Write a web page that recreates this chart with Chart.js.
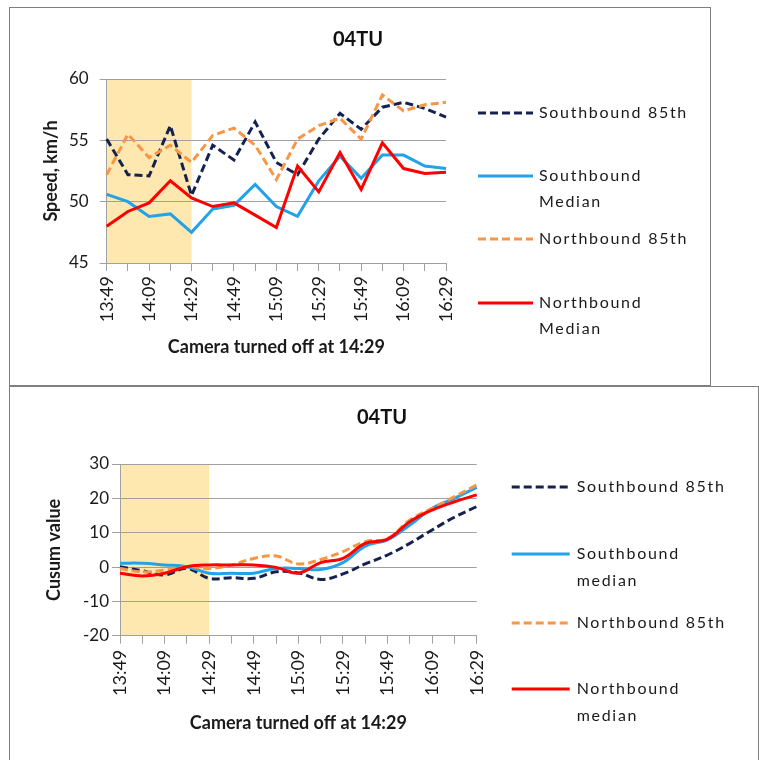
<!DOCTYPE html>
<html>
<head>
<meta charset="utf-8">
<script src="https://cdn.jsdelivr.net/npm/chart.js@4.4.0/dist/chart.umd.min.js"></script>
<style>
  html, body { margin: 0; padding: 0; background: #fff; }
  body { width: 759px; height: 760px; position: relative; overflow: hidden; font-family: Lato, sans-serif; }
  .panel { position: absolute; border: 1px solid #7f7f7f; background: #fff; box-sizing: border-box; }
  #speed-panel { left: 9px; top: 7px; width: 702px; height: 379px; }
  #cusum-panel { left: 9px; top: 386px; width: 750px; height: 390px; }
  .panel canvas { position: absolute; left: 0; top: 0; }
</style>
</head>
<body>
<div class="panel" id="speed-panel"><canvas id="speed-chart" width="700" height="377"></canvas></div>
<div class="panel" id="cusum-panel"><canvas id="cusum-chart" width="748" height="373"></canvas></div>
<script>
// 10-minute intervals, every second one labelled
const times = ['13:49','13:59','14:09','14:19','14:29','14:39','14:49','14:59','15:09',
               '15:19','15:29','15:39','15:49','15:59','16:09','16:19','16:29'];
const cameraOff = '14:29';

// speed, km/h
const sb85Speed   = [55.1, 52.2, 52.1, 56.2, 50.5, 54.6, 53.4, 56.5, 53.2, 52.2, 55.1, 57.2, 55.9, 57.7, 58.1, 57.6, 56.9];
const sbMedSpeed  = [50.6, 50.0, 48.8, 49.0, 47.5, 49.4, 49.7, 51.4, 49.6, 48.8, 51.7, 53.7, 51.9, 53.8, 53.8, 52.9, 52.7];
const nb85Speed   = [52.2, 55.5, 53.6, 54.6, 53.2, 55.4, 56.0, 54.6, 51.8, 55.1, 56.2, 56.8, 55.1, 58.7, 57.4, 57.9, 58.1];
const nbMedSpeed  = [48.0, 49.2, 49.9, 51.7, 50.3, 49.6, 49.9, 48.9, 47.9, 52.9, 50.8, 54.0, 51.0, 54.8, 52.7, 52.3, 52.4];

// cusum values
const sb85Cusum   = [0.1, -1.1, -2.3, -0.4, -3.3, -3.1, -3.3, -1.4, -1.7, -3.6, -2.0, 0.9, 3.5, 6.9, 10.8, 14.5, 17.6];
const sbMedCusum  = [1.1, 1.1, 0.6, 0.1, -1.8, -1.8, -1.8, -0.4, -0.4, -0.7, 1.3, 6.1, 7.9, 12.2, 17.1, 20.0, 23.2];
const nb85Cusum   = [-0.4, -1.4, -0.9, 0.1, -0.4, 0.6, 2.5, 3.2, 0.9, 2.2, 4.5, 7.4, 8.3, 13.7, 17.1, 20.5, 23.9];
const nbMedCusum  = [-1.8, -2.6, -1.8, 0.1, 0.6, 0.6, 0.6, -0.1, -1.8, 1.3, 2.5, 6.9, 8.1, 13.2, 16.6, 19.0, 21.0];

const NAVY = '#14224f';
const SKY = '#22a3e8';
const ORANGE = '#f79646';
const RED = '#ff0000';
const GRID = '#a0a0a0';
const INK = '#1a1a1a';
const FONT = 'Lato, "Open Sans", sans-serif';

// yellow band while the camera was on
const cameraBand = {
    id: 'cameraBand',
    beforeDraw(chart) {
        const { ctx, chartArea: a, scales: { x } } = chart;
        const right = x.getPixelForValue(times.indexOf(cameraOff));
        ctx.save();
        ctx.fillStyle = '#ffe8b0';
        ctx.fillRect(a.left, a.top, right - a.left, a.bottom - a.top);
        ctx.restore();
    }
};

// title centred on the whole panel, not just the plot
const panelTitle = {
    id: 'panelTitle',
    afterDraw(chart, args, opts) {
        const { ctx, width } = chart;
        ctx.save();
        ctx.font = 'bold 20px ' + FONT;
        ctx.fillStyle = '#111';
        ctx.textAlign = 'center';
        ctx.textBaseline = 'middle';
        ctx.fillText(opts.text, width / 2 - 2, opts.y);
        ctx.restore();
    }
};

// Excel-style legend to the right of the plot
const sideLegend = {
    id: 'sideLegend',
    afterDraw(chart, args, opts) {
        const { ctx, chartArea: a } = chart;
        ctx.save();
        ctx.font = '16px ' + FONT;
        ctx.letterSpacing = '1.7px';
        ctx.fillStyle = INK;
        ctx.textBaseline = 'middle';
        opts.items.forEach((item, i) => {
            const ds = chart.data.datasets[i];
            const y = a.top + item.y;
            ctx.strokeStyle = ds.borderColor;
            ctx.lineWidth = 3;
            ctx.setLineDash(ds.borderDash || []);
            ctx.beginPath();
            ctx.moveTo(a.right + opts.x0, y);
            ctx.lineTo(a.right + opts.x1, y);
            ctx.stroke();
            ds.label.split('\n').forEach((line, k) => {
                ctx.fillText(line, a.right + opts.tx, y + k * opts.lineGap);
            });
        });
        ctx.restore();
    }
};

function makeDatasets(sb85, sbMed, nb85, nbMed, medWord, tension) {
    const base = { borderWidth: 3, pointRadius: 0, tension: tension, fill: false, borderCapStyle: 'butt' };
    return [
        { ...base, label: 'Southbound 85th', data: sb85, borderColor: NAVY, borderDash: [8, 4], order: 4 },
        { ...base, label: 'Southbound\n' + medWord, data: sbMed, borderColor: SKY, order: 3 },
        { ...base, label: 'Northbound 85th', data: nb85, borderColor: ORANGE, borderDash: [8, 4], order: 2 },
        { ...base, label: 'Northbound\n' + medWord, data: nbMed, borderColor: RED, order: 1 }
    ];
}

function renderChart(id, cfg) {
    const ctx = document.getElementById(id);
    new Chart(ctx, {
        type: 'line',
        data: { labels: times, datasets: cfg.datasets },
        options: {
            responsive: false,
            animation: false,
            layout: { padding: cfg.padding },
            plugins: {
                legend: { display: false },
                tooltip: { enabled: false },
                title: { display: false },
                panelTitle: { text: '04TU', y: cfg.titleY },
                sideLegend: cfg.legend
            },
            scales: {
                x: {
                    offset: false,
                    border: { display: true, color: GRID },
                    grid: { drawOnChartArea: false, drawTicks: true, tickLength: 8, color: GRID },
                    ticks: {
                        autoSkip: false, minRotation: 90, maxRotation: 90, padding: cfg.xTickPad,
                        color: INK, font: { family: FONT, size: 18 },
                        callback: (v, i) => i % 2 === 0 ? times[i] : ''
                    },
                    title: {
                        display: true, text: 'Camera turned off at 14:29', color: INK,
                        font: { family: FONT, size: 18, weight: 'bold' }, padding: 4
                    },
                    afterFit: (s) => { s.height = cfg.xHeight; }
                },
                y: {
                    min: cfg.yMin, max: cfg.yMax,
                    border: { display: true, color: GRID },
                    grid: { color: GRID, drawTicks: true, tickLength: cfg.yTickLen },
                    ticks: { stepSize: cfg.yStep, padding: cfg.yTickPad, color: INK, font: { family: FONT, size: 17 } },
                    title: {
                        display: true, text: cfg.yTitle, color: INK,
                        font: { family: FONT, size: 18, weight: 'bold' }, padding: 4
                    },
                    afterFit: (s) => { s.width = cfg.yWidth; }
                }
            }
        },
        plugins: [cameraBand, panelTitle, sideLegend]
    });
}

renderChart('speed-chart', {
    datasets: makeDatasets(sb85Speed, sbMedSpeed, nb85Speed, nbMedSpeed, 'Median', 0),
    yMin: 45, yMax: 60, yStep: 5, yTitle: 'Speed, km/h', titleY: 32,
    padding: { left: 26, right: 264, top: 71, bottom: 23.2 },
    xHeight: 98.8, yWidth: 70.7, xTickPad: 5, yTickPad: 11, yTickLen: 7,
    legend: { x0: 32, x1: 87, tx: 93, lineGap: 26,
              items: [{ y: 34 }, { y: 97 }, { y: 160 }, { y: 224 }] }
});

renderChart('cusum-chart', {
    datasets: makeDatasets(sb85Cusum, sbMedCusum, nb85Cusum, nbMedCusum, 'median', 0.4),
    yMin: -20, yMax: 30, yStep: 10, yTitle: 'Cusum value', titleY: 31,
    padding: { left: 29, right: 281.3, top: 77, bottom: 22.2 },
    xHeight: 102.1, yWidth: 81, xTickPad: 6, yTickPad: 3, yTickLen: 8,
    legend: { x0: 35, x1: 93, tx: 100, lineGap: 27,
              items: [{ y: 23 }, { y: 90 }, { y: 159 }, { y: 225 }] }
});
</script>
</body>
</html>
